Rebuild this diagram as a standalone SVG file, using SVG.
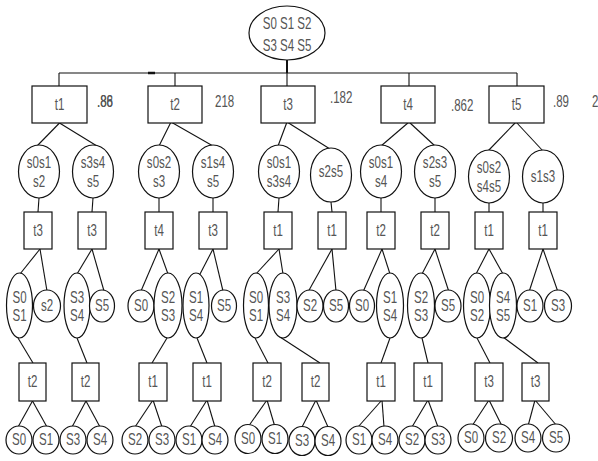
<svg xmlns="http://www.w3.org/2000/svg" width="598" height="461" viewBox="0 0 598 461">
<style>
text{font-family:"Liberation Sans",Arial,sans-serif;font-size:16px;fill:#555;text-anchor:middle;transform-box:fill-box;transform-origin:center;transform:scaleX(0.72)}
text.lbl{text-anchor:start;transform-origin:0% 50%}
ellipse,rect{fill:#fff;stroke:#111;stroke-width:1.2}
#connectors line{stroke:#111;stroke-width:1.1}
</style>
<rect x="0" y="0" width="598" height="461" style="fill:#fff;stroke:none"/>
<g id="connectors">
<line x1="287" y1="60" x2="287" y2="73" style="stroke-width:2"/>
<line x1="59" y1="73" x2="517" y2="73"/>
<line x1="148" y1="73" x2="155" y2="73" style="stroke-width:2.5"/>
<line x1="59" y1="73" x2="59" y2="86"/>
<line x1="175" y1="73" x2="175" y2="86"/>
<line x1="287" y1="73" x2="287" y2="86"/>
<line x1="409" y1="73" x2="409" y2="86"/>
<line x1="517" y1="73" x2="517" y2="86"/>
<line x1="59.5" y1="123" x2="37" y2="146"/><line x1="59.5" y1="123" x2="97" y2="146"/>
<line x1="171" y1="122" x2="159" y2="146"/><line x1="171" y1="122" x2="213" y2="146"/>
<line x1="287" y1="122" x2="278" y2="146"/><line x1="287" y1="122" x2="330" y2="149"/>
<line x1="409" y1="122" x2="381" y2="146"/><line x1="409" y1="122" x2="435" y2="146"/>
<line x1="516" y1="122" x2="488" y2="151"/><line x1="516" y1="122" x2="543" y2="151"/>
<line x1="39" y1="198" x2="38" y2="212"/>
<line x1="93" y1="198" x2="92" y2="212"/>
<line x1="159" y1="198" x2="159" y2="212"/>
<line x1="213" y1="198" x2="213" y2="212"/>
<line x1="279" y1="198" x2="278" y2="212"/>
<line x1="331" y1="202" x2="332" y2="212"/>
<line x1="381" y1="198" x2="381" y2="212"/>
<line x1="435" y1="198" x2="435" y2="212"/>
<line x1="489" y1="203" x2="489" y2="212"/>
<line x1="543" y1="203" x2="543" y2="212"/>
<line x1="40" y1="249" x2="20" y2="274"/><line x1="40" y1="249" x2="47" y2="291"/>
<line x1="92" y1="249" x2="77" y2="274"/><line x1="92" y1="249" x2="104" y2="291"/>
<line x1="159" y1="249" x2="141" y2="291"/><line x1="159" y1="249" x2="168" y2="274"/>
<line x1="213" y1="249" x2="199" y2="276"/><line x1="213" y1="249" x2="223" y2="291"/>
<line x1="279" y1="249" x2="255" y2="275"/><line x1="279" y1="249" x2="283" y2="274"/>
<line x1="332" y1="249" x2="308" y2="292"/><line x1="332" y1="249" x2="336" y2="291"/>
<line x1="382" y1="249" x2="363" y2="292"/><line x1="382" y1="249" x2="390" y2="274"/>
<line x1="435" y1="249" x2="422" y2="274"/><line x1="435" y1="249" x2="449" y2="292"/>
<line x1="489" y1="249" x2="476" y2="274"/><line x1="489" y1="249" x2="503" y2="274"/>
<line x1="543" y1="249" x2="529" y2="292"/><line x1="543" y1="249" x2="558" y2="292"/>
<line x1="18" y1="338" x2="33" y2="363"/>
<line x1="77" y1="338" x2="87" y2="363"/>
<line x1="167" y1="338" x2="152" y2="363"/>
<line x1="197" y1="338" x2="207" y2="363"/>
<line x1="255" y1="338" x2="268" y2="363"/>
<line x1="280" y1="337" x2="320" y2="363"/>
<line x1="390" y1="338" x2="381" y2="363"/>
<line x1="422" y1="338" x2="428" y2="363"/>
<line x1="477" y1="338" x2="490" y2="363"/>
<line x1="503" y1="337" x2="538" y2="363"/>
<line x1="32.5" y1="401" x2="18" y2="427"/><line x1="32.5" y1="401" x2="47" y2="427"/>
<line x1="86" y1="401" x2="72" y2="427"/><line x1="86" y1="401" x2="100" y2="427"/>
<line x1="153" y1="400" x2="135" y2="427"/><line x1="153" y1="400" x2="162" y2="427"/>
<line x1="207" y1="400" x2="190" y2="427"/><line x1="207" y1="400" x2="215" y2="427"/>
<line x1="267" y1="400" x2="248" y2="427"/><line x1="267" y1="400" x2="275" y2="427"/>
<line x1="316" y1="400" x2="302" y2="427"/><line x1="316" y1="400" x2="328" y2="427"/>
<line x1="382" y1="400" x2="358" y2="427"/><line x1="382" y1="400" x2="384" y2="427"/>
<line x1="428" y1="400" x2="412" y2="427"/><line x1="428" y1="400" x2="438" y2="427"/>
<line x1="489" y1="400" x2="472" y2="426"/><line x1="489" y1="400" x2="502" y2="426"/>
<line x1="535" y1="400" x2="528" y2="426"/><line x1="535" y1="400" x2="557" y2="426"/>
</g>
<g id="root"><ellipse cx="287" cy="33" rx="38" ry="27"/><text x="287" y="29">S0 S1 S2</text><text x="287" y="51">S3 S4 S5</text></g>
<g id="t1"><rect x="32" y="86" width="55" height="37"/><text x="59.5" y="110">t1</text></g>
<g id="t2"><rect x="148" y="86" width="54" height="37"/><text x="175" y="110">t2</text></g>
<g id="t3"><rect x="261" y="86" width="54" height="37"/><text x="288" y="110">t3</text></g>
<g id="t4"><rect x="381" y="86" width="54" height="37"/><text x="408" y="110">t4</text></g>
<g id="t5"><rect x="489" y="86" width="55" height="37"/><text x="516.5" y="110">t5</text></g>
<g id="labels">
<text class="lbl" x="97" y="107">.88</text><text class="lbl" x="97" y="107">.86</text>
<text class="lbl" x="215" y="107">218</text><text class="lbl" x="215" y="107">.</text>
<text class="lbl" x="330" y="103">.182</text>
<text class="lbl" x="451" y="111">.862</text>
<text class="lbl" x="553" y="107">.89</text>
<text class="lbl" x="592" y="107">2</text>
</g>
<g id="n2a"><ellipse cx="39" cy="171.5" rx="20.5" ry="26.5"/><text x="39" y="168">s0s1</text><text x="39" y="187">s2</text></g>
<g id="n2b"><ellipse cx="93" cy="171.5" rx="20.5" ry="26.5"/><text x="93" y="168">s3s4</text><text x="93" y="187">s5</text></g>
<g id="n2c"><ellipse cx="159" cy="171.5" rx="20.5" ry="26.5"/><text x="159" y="168">s0s2</text><text x="159" y="187">s3</text></g>
<g id="n2d"><ellipse cx="213" cy="171.5" rx="20.5" ry="26.5"/><text x="213" y="168">s1s4</text><text x="213" y="187">s5</text></g>
<g id="n2e"><ellipse cx="279" cy="171.5" rx="20.5" ry="26.5"/><text x="279" y="168">s0s1</text><text x="279" y="187">s3s4</text></g>
<g id="n2f"><ellipse cx="331" cy="175" rx="20.5" ry="27"/><text x="331" y="177">s2s5</text></g>
<g id="n2g"><ellipse cx="381" cy="171.5" rx="20.5" ry="26.5"/><text x="381" y="168">s0s1</text><text x="381" y="187">s4</text></g>
<g id="n2h"><ellipse cx="435" cy="171.5" rx="20.5" ry="26.5"/><text x="435" y="168">s2s3</text><text x="435" y="187">s5</text></g>
<g id="n2i"><ellipse cx="489" cy="176.5" rx="20.5" ry="26.5"/><text x="489" y="173">s0s2</text><text x="489" y="192">s4s5</text></g>
<g id="n2j"><ellipse cx="543" cy="176.5" rx="20.5" ry="26.5"/><text x="543" y="182">s1s3</text></g>
<g id="b3a"><rect x="24" y="212" width="28" height="37"/><text x="38" y="236">t3</text></g>
<g id="b3b"><rect x="78" y="212" width="28" height="37"/><text x="92" y="236">t3</text></g>
<g id="b3c"><rect x="145" y="212" width="28" height="37"/><text x="159" y="236">t4</text></g>
<g id="b3d"><rect x="199" y="212" width="28" height="37"/><text x="213" y="236">t3</text></g>
<g id="b3e"><rect x="264" y="212" width="28" height="37"/><text x="278" y="236">t1</text></g>
<g id="b3f"><rect x="318" y="212" width="28" height="37"/><text x="332" y="236">t1</text></g>
<g id="b3g"><rect x="367" y="212" width="28" height="37"/><text x="381" y="236">t2</text></g>
<g id="b3h"><rect x="421" y="212" width="28" height="37"/><text x="435" y="236">t2</text></g>
<g id="b3i"><rect x="475" y="212" width="28" height="37"/><text x="489" y="236">t1</text></g>
<g id="b3j"><rect x="529" y="212" width="28" height="37"/><text x="543" y="236">t1</text></g>
<g id="n4a"><ellipse cx="19.5" cy="305.5" rx="13" ry="32.5"/><text x="19.5" y="303">S0</text><text x="19.5" y="321">S1</text></g>
<g id="n4b"><ellipse cx="47" cy="306" rx="13.5" ry="16"/><text x="47" y="311.5">s2</text></g>
<g id="n4c"><ellipse cx="77" cy="305.5" rx="13" ry="32.5"/><text x="77" y="303">S3</text><text x="77" y="321">S4</text></g>
<g id="n4d"><ellipse cx="102" cy="306" rx="12.5" ry="16"/><text x="102" y="311.5">S5</text></g>
<g id="n4e"><ellipse cx="141" cy="306" rx="13" ry="16"/><text x="141" y="311.5">S0</text></g>
<g id="n4f"><ellipse cx="168" cy="305.5" rx="14" ry="32.5"/><text x="168" y="303">S2</text><text x="168" y="321">S3</text></g>
<g id="n4g"><ellipse cx="196" cy="305.5" rx="13" ry="32.5"/><text x="196" y="303">S1</text><text x="196" y="321">S4</text></g>
<g id="n4h"><ellipse cx="224" cy="306" rx="12.5" ry="16"/><text x="224" y="311.5">S5</text></g>
<g id="n4i"><ellipse cx="256" cy="305.5" rx="12.5" ry="32.5"/><text x="256" y="303">S0</text><text x="256" y="321">S1</text></g>
<g id="n4j"><ellipse cx="283" cy="305.5" rx="14" ry="32.5"/><text x="283" y="303">S3</text><text x="283" y="321">S4</text></g>
<g id="n4k"><ellipse cx="310" cy="306" rx="13" ry="16"/><text x="310" y="311.5">S2</text></g>
<g id="n4l"><ellipse cx="336" cy="306" rx="12.5" ry="16"/><text x="336" y="311.5">S5</text></g>
<g id="n4m"><ellipse cx="362" cy="306" rx="12.5" ry="16"/><text x="362" y="311.5">S0</text></g>
<g id="n4n"><ellipse cx="390" cy="305.5" rx="13.5" ry="32.5"/><text x="390" y="303">S1</text><text x="390" y="321">S4</text></g>
<g id="n4o"><ellipse cx="421" cy="305.5" rx="13.5" ry="32.5"/><text x="421" y="303">S2</text><text x="421" y="321">S3</text></g>
<g id="n4p"><ellipse cx="448" cy="306" rx="13" ry="16"/><text x="448" y="311.5">S5</text></g>
<g id="n4q"><ellipse cx="477" cy="305.5" rx="13.5" ry="32.5"/><text x="477" y="303">S0</text><text x="477" y="321">S2</text></g>
<g id="n4r"><ellipse cx="503" cy="305.5" rx="13.5" ry="32.5"/><text x="503" y="303">S4</text><text x="503" y="321">S5</text></g>
<g id="n4s"><ellipse cx="530" cy="306" rx="13" ry="16"/><text x="530" y="311.5">S1</text></g>
<g id="n4t"><ellipse cx="558" cy="306" rx="13.5" ry="16"/><text x="558" y="311.5">S3</text></g>
<g id="b5a"><rect x="19" y="363" width="27" height="38"/><text x="32.5" y="387">t2</text></g>
<g id="b5b"><rect x="72" y="363" width="27" height="38"/><text x="85.5" y="387">t2</text></g>
<g id="b5c"><rect x="139" y="363" width="28" height="38"/><text x="153" y="387">t1</text></g>
<g id="b5d"><rect x="193" y="363" width="28" height="38"/><text x="207" y="387">t1</text></g>
<g id="b5e"><rect x="253" y="363" width="28" height="38"/><text x="267" y="387">t2</text></g>
<g id="b5f"><rect x="302" y="363" width="27" height="38"/><text x="315.5" y="387">t2</text></g>
<g id="b5g"><rect x="367" y="363" width="28" height="38"/><text x="381" y="387">t1</text></g>
<g id="b5h"><rect x="414" y="363" width="28" height="38"/><text x="428" y="387">t1</text></g>
<g id="b5i"><rect x="475" y="363" width="28" height="38"/><text x="489" y="387">t3</text></g>
<g id="b5j"><rect x="522" y="363" width="27" height="38"/><text x="535.5" y="387">t3</text></g>
<g id="n6a"><ellipse cx="19" cy="440" rx="13" ry="14"/><text x="19" y="445.5">S0</text></g>
<g id="n6b"><ellipse cx="46" cy="440" rx="13" ry="14"/><text x="46" y="445.5">S1</text></g>
<g id="n6c"><ellipse cx="73" cy="440" rx="13" ry="14"/><text x="73" y="445.5">S3</text></g>
<g id="n6d"><ellipse cx="100" cy="440" rx="13" ry="14"/><text x="100" y="445.5">S4</text></g>
<g id="n6e"><ellipse cx="135" cy="440" rx="13" ry="14"/><text x="135" y="445.5">S2</text></g>
<g id="n6f"><ellipse cx="162" cy="440" rx="13" ry="14"/><text x="162" y="445.5">S3</text></g>
<g id="n6g"><ellipse cx="189" cy="440" rx="13" ry="14"/><text x="189" y="445.5">S1</text></g>
<g id="n6h"><ellipse cx="215" cy="440" rx="13" ry="14"/><text x="215" y="445.5">S4</text></g>
<g id="n6i"><ellipse cx="248" cy="439" rx="13" ry="14.5"/><text x="248" y="444.5">S0</text></g>
<g id="n6j"><ellipse cx="275" cy="439" rx="13" ry="14.5"/><text x="275" y="444.5">S1</text></g>
<g id="n6k"><ellipse cx="302" cy="441" rx="13" ry="14.5"/><text x="302" y="446.5">S3</text></g>
<g id="n6l"><ellipse cx="328" cy="441" rx="13" ry="14.5"/><text x="328" y="446.5">S4</text></g>
<g id="n6m"><ellipse cx="359" cy="440" rx="13" ry="14"/><text x="359" y="445.5">S1</text></g>
<g id="n6n"><ellipse cx="385" cy="440" rx="13" ry="14"/><text x="385" y="445.5">S4</text></g>
<g id="n6o"><ellipse cx="412" cy="440" rx="13" ry="14"/><text x="412" y="445.5">S2</text></g>
<g id="n6p"><ellipse cx="438" cy="440" rx="13" ry="14"/><text x="438" y="445.5">S3</text></g>
<g id="n6q"><ellipse cx="471" cy="438" rx="13" ry="14"/><text x="471" y="443.5">S0</text></g>
<g id="n6r"><ellipse cx="499" cy="438" rx="13.5" ry="14"/><text x="499" y="443.5">S2</text></g>
<g id="n6s"><ellipse cx="528" cy="438" rx="13" ry="14"/><text x="528" y="443.5">S4</text></g>
<g id="n6t"><ellipse cx="556" cy="438" rx="13.5" ry="14"/><text x="556" y="443.5">S5</text></g>
</svg>
